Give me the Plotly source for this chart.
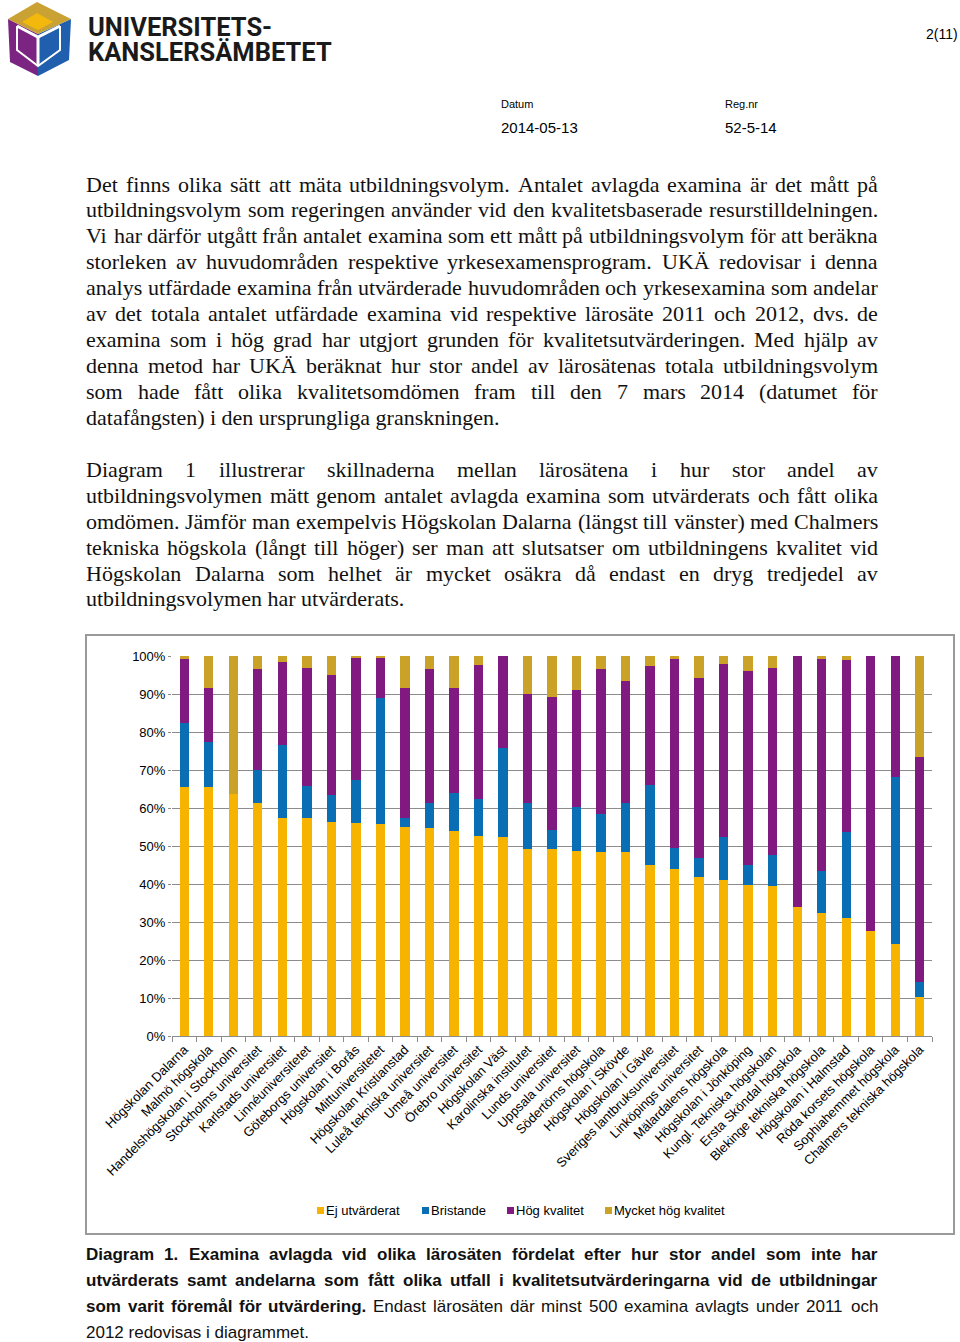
import plotly.graph_objects as go

# page coordinates below (960 x 1342)
W, H = 960, 1342

universities = [
    "Högskolan Dalarna", "Malmö högskola", "Handelshögskolan i Stockholm",
    "Stockholms universitet", "Karlstads universitet", "Linnéuniversitetet",
    "Göteborgs universitet", "Högskolan i Borås", "Mittuniversitetet",
    "Högskolan Kristianstad", "Luleå tekniska universitet", "Umeå universitet",
    "Örebro universitet", "Högskolan Väst", "Karolinska institutet",
    "Lunds universitet", "Uppsala universitet", "Södertörns högskola",
    "Högskolan i Skövde", "Högskolan i Gävle", "Sveriges lantbruksuniversitet",
    "Linköpings universitet", "Mälardalens högskola", "Högskolan i Jönköping",
    "Kungl. Tekniska högskolan", "Ersta Sköndal högskola", "Blekinge tekniska högskola",
    "Högskolan i Halmstad", "Röda korsets högskola", "Sophiahemmet högskola",
    "Chalmers tekniska högskola",
]
ej_utvarderat = [65.6, 65.4, 63.6, 61.4, 57.5, 57.3, 56.4, 56.1, 55.7, 55.1, 54.7, 54.0,
                 52.6, 52.3, 49.2, 49.1, 48.8, 48.4, 48.4, 45.0, 43.9, 41.9, 41.1, 39.7,
                 39.6, 34.0, 32.3, 31.0, 27.7, 24.2, 10.3]
bristande = [16.7, 12.1, 0.0, 8.6, 19.0, 8.6, 6.9, 11.3, 33.2, 2.4, 6.5, 9.9,
             9.9, 23.6, 12.0, 5.1, 11.4, 10.0, 13.0, 21.1, 5.5, 4.9, 11.2, 5.3,
             8.0, 0.0, 11.2, 22.8, 0.0, 44.0, 4.0]
hog_kvalitet = [16.9, 14.0, 0.0, 26.6, 22.0, 30.9, 31.7, 32.2, 10.5, 34.0, 35.4, 27.6,
                35.2, 24.1, 28.7, 34.9, 30.9, 38.3, 32.1, 31.4, 49.8, 47.5, 45.6, 51.1,
                49.2, 66.0, 55.7, 45.1, 72.3, 31.8, 59.0]
mycket_hog = [0.8, 8.5, 36.4, 3.4, 1.5, 3.2, 5.0, 0.4, 0.6, 8.5, 3.4, 8.5,
              2.3, 0.0, 10.1, 10.9, 8.9, 3.3, 6.5, 2.5, 0.8, 5.7, 2.1, 3.9,
              3.2, 0.0, 0.8, 1.1, 0.0, 0.0, 26.7]
series_names = ["Ej utvärderat", "Bristande", "Hög kvalitet", "Mycket hög kvalitet"]
series_colors = ["#F6B400", "#0A6EB5", "#801A80", "#C9A227"]

paragraph_1 = [
    "Det finns olika sätt att mäta utbildningsvolym. Antalet avlagda examina är det mått på",
    "utbildningsvolym som regeringen använder vid den kvalitetsbaserade resurstilldelningen.",
    "Vi har därför utgått från antalet examina som ett mått på utbildningsvolym för att beräkna",
    "storleken av huvudområden respektive yrkesexamensprogram. UKÄ redovisar i denna",
    "analys utfärdade examina från utvärderade huvudområden och yrkesexamina som andelar",
    "av det totala antalet utfärdade examina vid respektive lärosäte 2011 och 2012, dvs. de",
    "examina som i hög grad har utgjort grunden för kvalitetsutvärderingen. Med hjälp av",
    "denna metod har UKÄ beräknat hur stor andel av lärosätenas totala utbildningsvolym",
    "som hade fått olika kvalitetsomdömen fram till den 7 mars 2014 (datumet för",
    "datafångsten) i den ursprungliga granskningen.",
]
paragraph_2 = [
    "Diagram 1 illustrerar skillnaderna mellan lärosätena i hur stor andel av",
    "utbildningsvolymen mätt genom antalet avlagda examina som utvärderats och fått olika",
    "omdömen. Jämför man exempelvis Högskolan Dalarna (längst till vänster) med Chalmers",
    "tekniska högskola (långt till höger) ser man att slutsatser om utbildningens kvalitet vid",
    "Högskolan Dalarna som helhet är mycket osäkra då endast en dryg tredjedel av",
    "utbildningsvolymen har utvärderats.",
]
caption = [
    [("Diagram 1. Examina avlagda vid olika lärosäten fördelat efter hur stor andel som inte har", True)],
    [("utvärderats samt andelarna som fått olika utfall i kvalitetsutvärderingarna vid de utbildningar", True)],
    [("som varit föremål för utvärdering.", True),
     ("Endast lärosäten där minst 500 examina avlagts under 2011 och", False)],
    [("2012 redovisas i diagrammet.", False)],
]


def _table(groups, default):
    t = {}
    for chars, w in groups:
        for ch in chars:
            t[ch] = w
    return t, default


TIMES = _table([("acezåäé", 444), ("fr-()", 333), ("ijlt:", 278), ("s", 389), ("m", 778),
                ("w", 722), ("bdghknopquvxyö0123456789", 500), (" .,", 250),
                ("ADGHKNOQUVXYÄÅÖ", 722), ("BCR", 667), ("ELTZ", 611), ("FPS", 556),
                ("I", 333), ("J", 389), ("M", 889), ("W", 944)], 500)
ARIAL = _table([("abdeghnopquåäöé0123456789", 556), ("cksvxyz", 500), ("ft .,:", 278),
                ("ijl", 222), ("r-()", 333), ("m", 833), ("w", 722), ("%", 889),
                ("ABEKPSVXYÄÅ", 667), ("CDHNRU", 722), ("GOQÖ", 778), ("FTZ", 611),
                ("L", 556), ("M", 833), ("W", 944), ("I", 278), ("J", 500)], 556)
ARIAL_B = _table([("acekşsvxyåäé0123456789", 556), ("bdghnopquö", 611), ("ijl .,", 278),
                  ("ft-()", 333), ("r", 389), ("m", 889), ("w", 778), ("z", 500),
                  ("ABCDHKNRUÄÅ", 722), ("EPSVXY", 667), ("GOQÖ", 778), ("FLTZ", 611),
                  ("M", 833), ("W", 944), ("I", 278), ("J", 556)], 611)


def text_width(s, table, size):
    t, d = table
    return sum(t.get(ch, d) for ch in s) * size / 1000.0


def px(x):
    return x / W


def py(y):
    return 1 - y / H


annotations = []


def note(text, x, y, size, family="Liberation Sans", anchor="left", color="#000", weight="normal"):
    annotations.append(dict(
        text=text, x=px(x), y=py(y), xref="paper", yref="paper", showarrow=False,
        xanchor=anchor, yanchor="middle", borderpad=0, borderwidth=0,
        font=dict(family=family, size=size, color=color, weight=weight),
    ))


def justified(segments, y, size, family, regular, bold, x0=86, x1=878, justify=True):
    if not justify:
        txt = " ".join(f"<b>{s}</b>" if b else s for s, b in segments)
        note(txt, x0, y, size, family, color="#111")
        return
    words = [(w, b) for s, b in segments for w in s.split(" ")]
    widths = [text_width(w, bold if b else regular, size) for w, b in words]
    gap = (x1 - x0 - sum(widths)) / (len(words) - 1)
    x = x0
    for i, ((w, b), ww) in enumerate(zip(words, widths)):
        txt = f"<b>{w}</b>" if b else w
        if i == len(words) - 1:
            note(txt, x1, y, size, family, anchor="right", color="#111")
        else:
            note(txt, x, y, size, family, color="#111")
        x += ww + gap


# body text
for k, line in enumerate(paragraph_1):
    justified([(line, False)], 184 + 25.9 * k, 22, "Liberation Serif", TIMES, TIMES,
              justify=k < len(paragraph_1) - 1)
for k, line in enumerate(paragraph_2):
    justified([(line, False)], 469 + 26 * k, 22, "Liberation Serif", TIMES, TIMES,
              justify=k < len(paragraph_2) - 1)
for k, segs in enumerate(caption):
    justified(segs, 1254 + 26 * k, 17, "Liberation Sans", ARIAL, ARIAL_B,
              justify=k < len(caption) - 1)

# header
note("2(11)", 958, 34, 14, anchor="right")
note("Datum", 501, 104, 11)
note("2014-05-13", 501, 128, 15)
note("Reg.nr", 725, 104, 11)
note("52-5-14", 725, 128, 15)
note("UNIVERSITETS-", 88, 27, 25.5, family="Roboto", color="#1a1a1a", weight="bold")
note("KANSLERSÄMBETET", 88, 52, 25.5, family="Roboto", color="#1a1a1a", weight="bold")


def poly(points, fill=None, line=None, width=0, closed=True):
    path = "M " + " L ".join(f"{px(x)},{py(y)}" for x, y in points) + (" Z" if closed else "")
    return dict(type="path", path=path, xref="paper", yref="paper",
                fillcolor=fill if fill else "rgba(0,0,0,0)",
                line=dict(color=line if line else "rgba(0,0,0,0)", width=width))


shapes = [
    # logo
    poly([(8, 19), (38, 34), (38, 76), (10, 62)], fill="#7B2481"),
    poly([(71, 19), (38, 34), (38, 76), (69, 60)], fill="#1F5FAE"),
    poly([(8, 19), (37, 2), (71, 19), (38, 34)], fill="#C9A233"),
    poly([(22, 22), (37, 13), (53, 22), (38, 30)], fill="#F3B80C"),
    poly([(17, 26), (38, 37), (60, 26)], line="white", width=3, closed=False),
    poly([(38, 37), (38, 66)], line="white", width=3, closed=False),
    poly([(17, 26), (17, 50), (38, 66), (60, 50), (60, 26)], line="white", width=2, closed=False),
    # chart frame
    dict(type="rect", xref="paper", yref="paper", x0=px(86), x1=px(954), y0=py(1234), y1=py(635),
         line=dict(color="#9a9a9a", width=2)),
]

# legend built by hand so swatches sit close to their labels
legend_square_x = [317, 422, 507, 605]
for name, color, sx in zip(series_names, series_colors, legend_square_x):
    shapes.append(dict(type="rect", xref="paper", yref="paper", x0=px(sx), x1=px(sx + 7),
                       y0=py(1214), y1=py(1207), fillcolor=color, line=dict(width=0)))
    note(name, sx + 9, 1210, 13)

fig = go.Figure()
for name, color, vals in zip(series_names, series_colors,
                             [ej_utvarderat, bristande, hog_kvalitet, mycket_hog]):
    fig.add_trace(go.Bar(x=universities, y=vals, name=name, showlegend=False,
                         marker=dict(color=color, line=dict(width=0))))

fig.update_layout(
    width=W, height=H, margin=dict(l=0, r=0, t=0, b=0),
    barmode="stack", bargap=0.62,
    plot_bgcolor="white", paper_bgcolor="white",
    font=dict(family="Liberation Sans", color="#000"),
    annotations=annotations, shapes=shapes,
)
fig.update_xaxes(
    domain=[px(172), px(932)], automargin=False, tickangle=-45,
    tickfont=dict(size=13, color="#000"), showline=True, linecolor="#8c8c8c", linewidth=1,
    ticks="outside", tickson="boundaries", ticklen=5, tickcolor="#8c8c8c",
    showgrid=False,
)
fig.update_yaxes(
    domain=[py(1036), py(656)], automargin=False, range=[0, 100], dtick=10,
    ticksuffix="%", tickfont=dict(size=13, color="#000"), showgrid=True,
    gridcolor="#8c8c8c", gridwidth=1, zeroline=False, ticks="outside", ticklen=3,
    tickcolor="#8c8c8c", showline=False,
)

# the page is exactly the window size, so drop the default body margin and scrollbars
fig.write_html(
    "out.html",
    config={"displayModeBar": False},
    post_script="document.body.style.margin='0';document.body.style.overflow='hidden';",
)
